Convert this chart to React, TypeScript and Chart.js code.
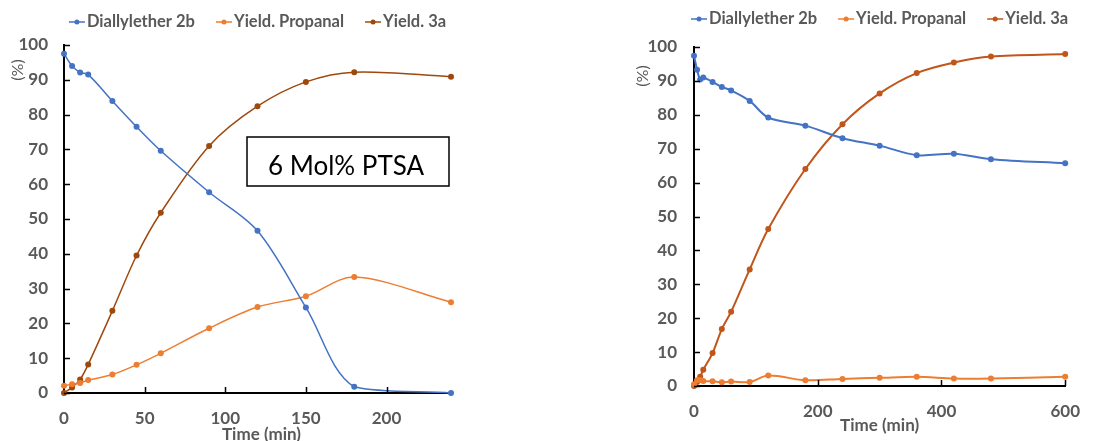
import React, { useEffect, useRef } from "react";
import { Chart, registerables } from "chart.js";

Chart.register(...registerables);

// ---------- data ----------
const SERIES_NAMES = ["Diallylether 2b", "Yield. Propanal", "Yield. 3a"];
const Y_TICKS = [0, 10, 20, 30, 40, 50, 60, 70, 80, 90, 100];

const LEFT_TIME = [0, 5, 10, 15, 30, 45, 60, 90, 120, 150, 180, 240];
const LEFT_DIALLYL = [97.5, 94.0, 92.1, 91.5, 83.9, 76.5, 69.6, 57.7, 46.6, 24.6, 1.8, 0];
const LEFT_PROPANAL = [2.1, 2.5, 2.9, 3.7, 5.3, 8.1, 11.4, 18.6, 24.7, 27.8, 33.3, 26.1];
const LEFT_3A = [0, 1.6, 3.9, 8.2, 23.6, 39.5, 51.8, 71.0, 82.4, 89.4, 92.2, 90.9];
const LEFT_X_TICKS = [0, 50, 100, 150, 200];
const LEFT_X_MAX = 240;
const LEFT_NOTE = "6 Mol% PTSA";

const RIGHT_TIME = [0, 5, 10, 15, 30, 45, 60, 90, 120, 180, 240, 300, 360, 420, 480, 600];
const RIGHT_DIALLYL = [97.4, 93.3, 90.4, 91.0, 89.7, 88.2, 87.2, 84.1, 79.2, 76.8, 73.1, 70.9, 68.1, 68.5, 66.9, 65.7];
const RIGHT_PROPANAL = [0.5, 1.7, 1.8, 1.5, 1.4, 1.1, 1.3, 1.2, 3.1, 1.7, 2.1, 2.4, 2.7, 2.2, 2.2, 2.7];
const RIGHT_3A = [0, 1.2, 2.7, 4.8, 9.7, 16.8, 21.9, 34.4, 46.3, 64.0, 77.2, 86.3, 92.3, 95.4, 97.2, 97.9];
const RIGHT_X_TICKS = [0, 200, 400, 600];
const RIGHT_X_MAX = 600;

const X_TITLE = "Time (min)";
const Y_TITLE = "(%)";

// ---------- styles ----------
const FONT = "Lato, 'Liberation Sans', sans-serif";
const GRAY = "#595959";
const BLUE = "#4472C4";
const ORANGE = "#ED7D31";

type Panel = {
  left: number;
  width: number;
  time: number[];
  series: number[][];
  colors: string[];
  lineWidth: number;
  xTicks: number[];
  xMax: number;
  yAxisW: number;
  xAxisH: number;
  padTop: number;
  padRight: number;
  yTickPad: number;
  xTickPad: number;
  legendY: number;
  yTitleX: number;
  yTitleY: number;
  xTitleY: number;
  xTitleDx: number;
  note?: { text: string; x: number; y: number; w: number; h: number; tx: number; ty: number };
};

const LEFT_PANEL: Panel = {
  left: 0,
  width: 470,
  time: LEFT_TIME,
  series: [LEFT_DIALLYL, LEFT_PROPANAL, LEFT_3A],
  colors: [BLUE, ORANGE, "#9E480E"],
  lineWidth: 1.5,
  xTicks: LEFT_X_TICKS,
  xMax: LEFT_X_MAX,
  yAxisW: 64,
  xAxisH: 48,
  padTop: 45,
  padRight: 19,
  yTickPad: 16,
  xTickPad: 15,
  legendY: 22,
  yTitleX: 18,
  yTitleY: 70,
  xTitleY: 435,
  xTitleDx: 4,
  note: { text: LEFT_NOTE, x: 247, y: 137, w: 202, h: 49, tx: 346, ty: 175 },
};

const RIGHT_PANEL: Panel = {
  left: 600,
  width: 495,
  time: RIGHT_TIME,
  series: [RIGHT_DIALLYL, RIGHT_PROPANAL, RIGHT_3A],
  colors: [BLUE, ORANGE, "#C0561A"],
  lineWidth: 2,
  xTicks: RIGHT_X_TICKS,
  xMax: RIGHT_X_MAX,
  yAxisW: 94,
  xAxisH: 55,
  padTop: 47,
  padRight: 17,
  yTickPad: 17,
  xTickPad: 15,
  legendY: 19,
  yTitleX: 43,
  yTitleY: 76,
  xTitleY: 426,
  xTitleDx: 0,
};

function decorPlugin(p: Panel) {
  return {
    id: "decor",
    afterDraw(chart: any) {
      const { ctx, chartArea: ca, scales } = chart;
      const xs = scales.x;
      const ys = scales.y;
      ctx.save();
      // inward tick marks
      ctx.strokeStyle = "#000";
      ctx.lineWidth = 1.5;
      ctx.beginPath();
      for (const v of Y_TICKS) {
        const py = Math.round(ys.getPixelForValue(v)) + 0.5;
        ctx.moveTo(ca.left, py);
        ctx.lineTo(ca.left + 6, py);
      }
      for (const v of p.xTicks) {
        if (v === 0) continue;
        const px = Math.round(xs.getPixelForValue(v)) + 0.5;
        ctx.moveTo(px, ca.bottom);
        ctx.lineTo(px, ca.bottom - 6);
      }
      ctx.stroke();

      // legend
      ctx.font = `bold 16.5px ${FONT}`;
      ctx.textBaseline = "middle";
      const markerW = 16;
      const markerGap = 2;
      const itemGap = 21;
      const widths = SERIES_NAMES.map((s) => ctx.measureText(s).width);
      const total =
        widths.reduce((a: number, b: number) => a + b, 0) +
        SERIES_NAMES.length * (markerW + markerGap) +
        itemGap * (SERIES_NAMES.length - 1);
      let lx = (ca.left + ca.right) / 2 - total / 2;
      SERIES_NAMES.forEach((name, i) => {
        const c = p.colors[i];
        ctx.strokeStyle = c;
        ctx.lineWidth = 1.5;
        ctx.beginPath();
        ctx.moveTo(lx, p.legendY);
        ctx.lineTo(lx + markerW, p.legendY);
        ctx.stroke();
        ctx.fillStyle = c;
        ctx.beginPath();
        ctx.arc(lx + markerW / 2, p.legendY, 2.5, 0, Math.PI * 2);
        ctx.fill();
        ctx.fillStyle = GRAY;
        ctx.textAlign = "left";
        ctx.fillText(name, lx + markerW + markerGap, p.legendY);
        lx += markerW + markerGap + widths[i] + itemGap;
      });

      // y title
      ctx.save();
      ctx.translate(p.yTitleX, p.yTitleY);
      ctx.rotate(-Math.PI / 2);
      ctx.font = `16px ${FONT}`;
      ctx.fillStyle = GRAY;
      ctx.textAlign = "center";
      ctx.textBaseline = "middle";
      ctx.fillText(Y_TITLE, 0, 0);
      ctx.restore();

      // x title
      ctx.font = `bold 17px ${FONT}`;
      ctx.fillStyle = GRAY;
      ctx.textAlign = "center";
      ctx.textBaseline = "middle";
      ctx.fillText(X_TITLE, (ca.left + ca.right) / 2 + p.xTitleDx, p.xTitleY);

      // note box
      if (p.note) {
        const n = p.note;
        ctx.fillStyle = "#fff";
        ctx.fillRect(n.x, n.y, n.w, n.h);
        ctx.strokeStyle = "#000";
        ctx.lineWidth = 1.5;
        ctx.strokeRect(n.x, n.y, n.w, n.h);
        ctx.fillStyle = "#000";
        ctx.font = `26px ${FONT}`;
        ctx.textAlign = "center";
        ctx.textBaseline = "alphabetic";
        ctx.fillText(n.text, n.tx, n.ty);
      }
      ctx.restore();
    },
  };
}

function buildConfig(p: Panel): any {
  const tickFont = { family: FONT, size: 17, weight: "bold" as const };
  return {
    type: "line",
    data: {
      datasets: p.series.map((vals, i) => ({
        label: SERIES_NAMES[i],
        data: p.time.map((t, j) => ({ x: t, y: vals[j] })),
        borderColor: p.colors[i],
        backgroundColor: p.colors[i],
        pointBackgroundColor: p.colors[i],
        pointBorderColor: p.colors[i],
        pointBorderWidth: 0,
        pointRadius: 3,
        borderWidth: p.lineWidth,
        tension: 0.33,
        fill: false,
        clip: false,
      })),
    },
    options: {
      responsive: false,
      animation: false,
      layout: { padding: { top: p.padTop, right: p.padRight, left: 0, bottom: 0 } },
      plugins: { legend: { display: false }, tooltip: { enabled: false }, title: { display: false } },
      scales: {
        x: {
          type: "linear",
          min: 0,
          max: p.xMax,
          afterBuildTicks: (s: any) => {
            s.ticks = p.xTicks.map((v) => ({ value: v }));
          },
          afterFit: (s: any) => {
            s.height = p.xAxisH;
          },
          grid: { display: false, drawTicks: false },
          border: { display: true, color: "#000", width: 2 },
          ticks: { font: tickFont, color: GRAY, padding: p.xTickPad, maxRotation: 0, autoSkip: false },
        },
        y: {
          type: "linear",
          min: 0,
          max: 100,
          afterBuildTicks: (s: any) => {
            s.ticks = Y_TICKS.map((v) => ({ value: v }));
          },
          afterFit: (s: any) => {
            s.width = p.yAxisW;
          },
          grid: { display: false, drawTicks: false },
          border: { display: true, color: "#000", width: 2 },
          ticks: { font: tickFont, color: GRAY, padding: p.yTickPad, autoSkip: false },
        },
      },
    },
    plugins: [decorPlugin(p)],
  };
}

function ChartPanel({ panel }: { panel: Panel }) {
  const ref = useRef<HTMLCanvasElement | null>(null);
  useEffect(() => {
    if (!ref.current) return;
    const chart = new Chart(ref.current, buildConfig(panel));
    return () => chart.destroy();
  }, [panel]);
  return (
    <canvas
      ref={ref}
      width={panel.width}
      height={441}
      style={{ position: "absolute", left: panel.left, top: 0, width: panel.width, height: 441 }}
    />
  );
}

export default function App() {
  return (
    <div
      style={{
        position: "fixed",
        left: 0,
        top: 0,
        width: 1095,
        height: 441,
        background: "#fff",
        overflow: "hidden",
      }}
    >
      <ChartPanel panel={LEFT_PANEL} />
      <ChartPanel panel={RIGHT_PANEL} />
    </div>
  );
}
